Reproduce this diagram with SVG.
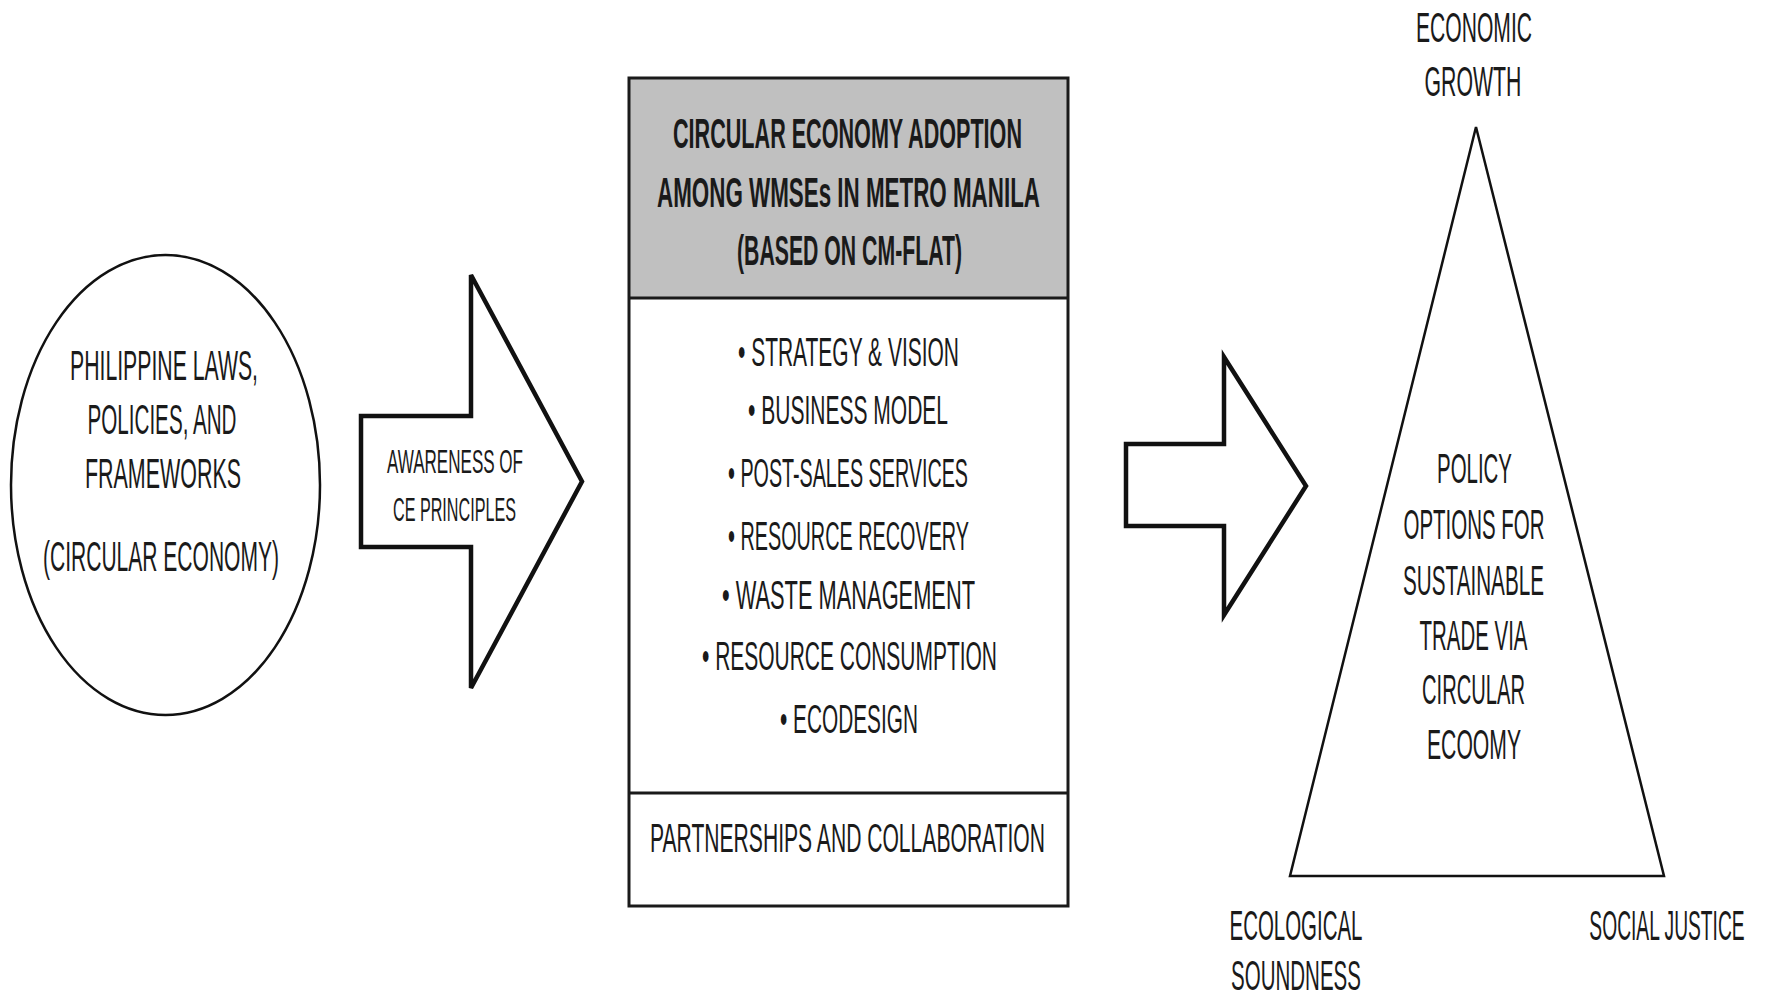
<svg xmlns="http://www.w3.org/2000/svg" width="1771" height="999" viewBox="0 0 1771 999">
<style>
  text { font-family: "Liberation Sans", Arial, sans-serif; fill: #1a1a1a; text-anchor: middle; }
  .circ { font-size: 42px; }
  .arw { font-size: 33px; }
  .hdr { font-size: 43px; font-weight: bold; }
  .item { font-size: 40px; }
  .tri { font-size: 42px; }
  .shape { fill: #ffffff; stroke: #111; }
</style>
<rect x="0" y="0" width="1771" height="999" fill="#ffffff"/>

<g id="node-laws">
  <ellipse class="shape" cx="165.5" cy="485" rx="154.5" ry="230" stroke-width="2.5"/>
  <text class="circ" x="164" y="380" textLength="188" lengthAdjust="spacingAndGlyphs">PHILIPPINE LAWS,</text>
  <text class="circ" x="162" y="434" textLength="149" lengthAdjust="spacingAndGlyphs">POLICIES, AND</text>
  <text class="circ" x="163" y="488" textLength="156" lengthAdjust="spacingAndGlyphs">FRAMEWORKS</text>
  <text class="circ" x="161" y="571" textLength="236" lengthAdjust="spacingAndGlyphs">(CIRCULAR ECONOMY)</text>
</g>

<g id="connectors">
  <g id="arrow-awareness">
    <polygon class="shape" stroke-width="4.5" stroke-linejoin="miter" points="361,416 471,416 471,275 582,481.5 471,688 471,547 361,547"/>
    <text class="arw" x="455" y="473" textLength="136" lengthAdjust="spacingAndGlyphs">AWARENESS OF</text>
    <text class="arw" x="454.5" y="521" textLength="123" lengthAdjust="spacingAndGlyphs">CE PRINCIPLES</text>
  </g>
  <g id="arrow-policy">
    <polygon class="shape" stroke-width="4.5" stroke-linejoin="miter" points="1126,444 1224,444 1224,357 1306,486 1224,615 1224,526 1126,526"/>
  </g>
</g>

<g id="node-adoption">
  <rect x="629" y="78" width="439" height="220" fill="#c0c0c0" stroke="none"/>
  <rect x="629" y="78" width="439" height="828" fill="none" stroke="#1a1a1a" stroke-width="3"/>
  <line x1="629" y1="298" x2="1068" y2="298" stroke="#1a1a1a" stroke-width="3"/>
  <line x1="629" y1="793" x2="1068" y2="793" stroke="#1a1a1a" stroke-width="3"/>
  <text class="hdr" x="847.5" y="148" textLength="349" lengthAdjust="spacingAndGlyphs">CIRCULAR ECONOMY ADOPTION</text>
  <text class="hdr" x="848.5" y="207" textLength="383" lengthAdjust="spacingAndGlyphs">AMONG WMSEs IN METRO  MANILA</text>
  <text class="hdr" x="849.5" y="265" textLength="225" lengthAdjust="spacingAndGlyphs">(BASED ON CM-FLAT)</text>
  <text class="item" x="848.5" y="366" textLength="221" lengthAdjust="spacingAndGlyphs">• STRATEGY &amp; VISION</text>
  <text class="item" x="848" y="424" textLength="200" lengthAdjust="spacingAndGlyphs">• BUSINESS  MODEL</text>
  <text class="item" x="848" y="487" textLength="240" lengthAdjust="spacingAndGlyphs">• POST-SALES SERVICES</text>
  <text class="item" x="848.5" y="550" textLength="241" lengthAdjust="spacingAndGlyphs">• RESOURCE RECOVERY</text>
  <text class="item" x="848.5" y="609" textLength="253" lengthAdjust="spacingAndGlyphs">• WASTE MANAGEMENT</text>
  <text class="item" x="849.5" y="670" textLength="295" lengthAdjust="spacingAndGlyphs">• RESOURCE CONSUMPTION</text>
  <text class="item" x="849" y="733" textLength="138" lengthAdjust="spacingAndGlyphs">• ECODESIGN</text>
  <text class="item" x="847.5" y="852" textLength="395" lengthAdjust="spacingAndGlyphs">PARTNERSHIPS AND COLLABORATION</text>
</g>

<g id="node-policy">
  <polygon class="shape" stroke-width="2.5" stroke-linejoin="miter" points="1476,127 1664,876 1290,876"/>
  <text class="tri" x="1474.5" y="483" textLength="75" lengthAdjust="spacingAndGlyphs">POLICY</text>
  <text class="tri" x="1474" y="539" textLength="141" lengthAdjust="spacingAndGlyphs">OPTIONS FOR</text>
  <text class="tri" x="1473.5" y="595" textLength="141" lengthAdjust="spacingAndGlyphs">SUSTAINABLE</text>
  <text class="tri" x="1473.5" y="650" textLength="108" lengthAdjust="spacingAndGlyphs">TRADE VIA</text>
  <text class="tri" x="1473.5" y="704" textLength="103" lengthAdjust="spacingAndGlyphs">CIRCULAR</text>
  <text class="tri" x="1474" y="759" textLength="94" lengthAdjust="spacingAndGlyphs">ECOOMY</text>
</g>

<g id="label-economic">
  <text class="tri" x="1474" y="42" textLength="116" lengthAdjust="spacingAndGlyphs">ECONOMIC</text>
  <text class="tri" x="1473" y="96" textLength="97" lengthAdjust="spacingAndGlyphs">GROWTH</text>
</g>
<g id="label-ecological">
  <text class="tri" x="1296" y="940" textLength="133" lengthAdjust="spacingAndGlyphs">ECOLOGICAL</text>
  <text class="tri" x="1296" y="990" textLength="130" lengthAdjust="spacingAndGlyphs">SOUNDNESS</text>
</g>
<g id="label-social">
  <text class="tri" x="0" y="0" transform="translate(1667,940) scale(0.458,1)">SOCIAL JUSTICE</text>
</g>
</svg>
